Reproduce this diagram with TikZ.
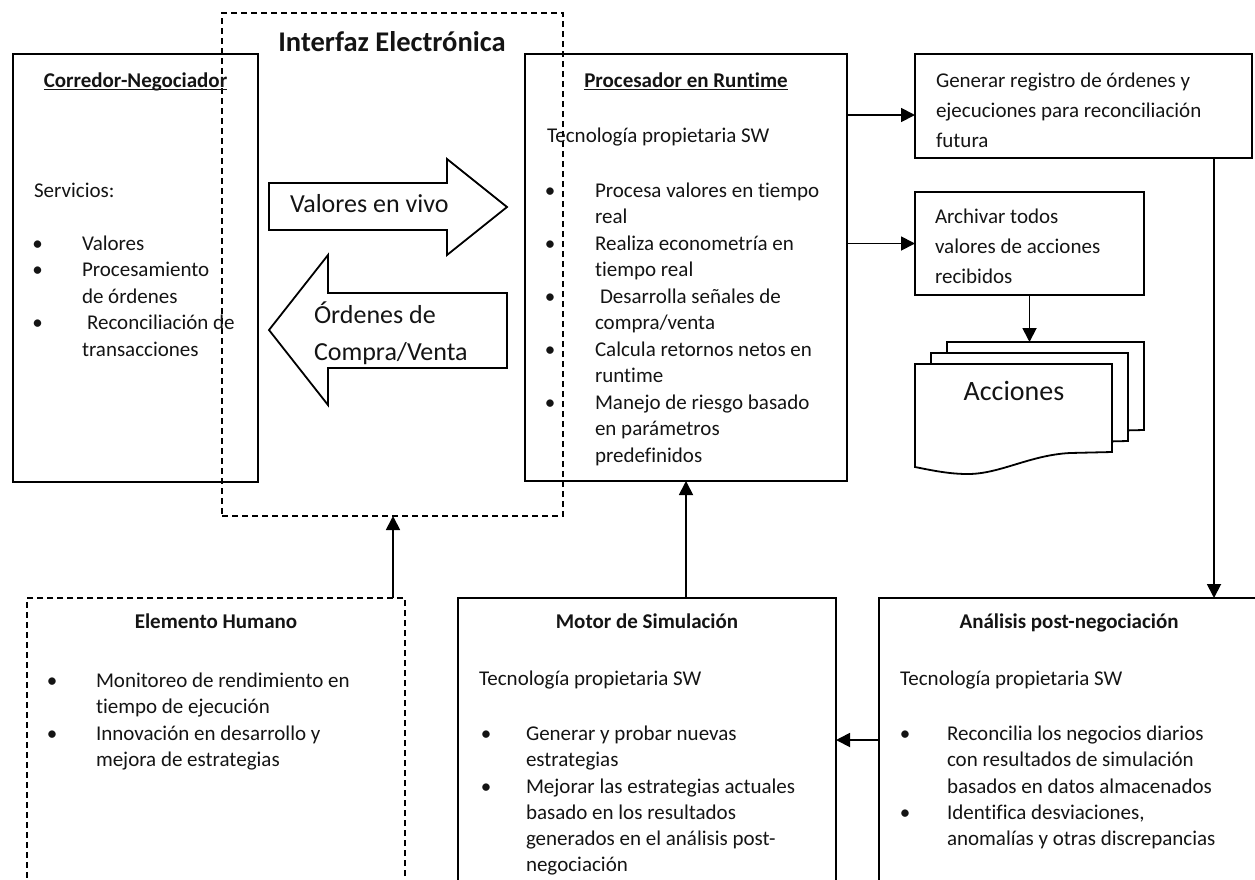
\documentclass[tikz,border=0pt]{standalone}
\usepackage{fontspec}
\setmainfont{Carlito}[Ligatures=NoCommon]
\usetikzlibrary{arrows.meta}
\definecolor{ink}{HTML}{141414}
% underline drawn through the descenders, as a word processor does
\newcommand\titlerule[1]{\setbox0\hbox{#1}\rlap{\rule[-3pt]{\wd0}{1.4pt}}\box0}
\begin{document}
\begin{tikzpicture}[x=1pt,y=-1pt,
  box/.style={draw=black, line width=1.8pt, inner sep=0pt, outer sep=0pt, anchor=north west},
  dbox/.style={box, dash pattern=on 6pt off 4pt},
  link/.style={draw=black, line width=1.8pt, -{Triangle[length=14pt,width=14pt]}},
  body/.style={inner sep=0pt, outer sep=0pt, anchor=base west, text=ink, font=\fontsize{21}{26}\selectfont},
  head/.style={body, anchor=base, font=\fontsize{21}{26}\selectfont\bfseries},
  dot/.style={body, anchor=base},
  big/.style={body, font=\fontsize{26}{30}\selectfont},
  blockarrow/.style={draw=black, line width=1.8pt, fill=white, line join=miter},
  doc/.style={draw=black, line width=1.8pt, fill=white},
]
\clip (0,0) rectangle (1255,879);

% ---------- frames ----------
\node[box, minimum width=245pt, minimum height=428pt] (corr) at (13,54) {};
\node[box, minimum width=322pt, minimum height=427pt] (proc) at (525,54) {};
\node[box, minimum width=337pt, minimum height=104pt] (gen) at (915,54) {};
\node[box, minimum width=229pt, minimum height=103pt] (arch) at (915,192) {};
\node[dbox, minimum width=341pt, minimum height=503pt] (iface) at (222,13) {};
\node[dbox, minimum width=378pt, minimum height=320pt] (hum) at (27,598) {};
\node[box, minimum width=378pt, minimum height=320pt] (motor) at (458,598) {};
\node[box, minimum width=390pt, minimum height=320pt] (ana) at (879,598) {};

% ---------- electronic interface ----------
\node[body, anchor=base, font=\fontsize{28.5}{32}\selectfont\bfseries] (ifaceT) at (392,51) {Interfaz Electrónica};
\draw[blockarrow] (269,183) -- (447,183) -- (447,159) -- (507,207) -- (447,255) -- (447,230) -- (269,230) -- cycle;
\node[big] (live) at (290,212) {Valores en vivo};
\draw[blockarrow] (507,293) -- (328,293) -- (328,255) -- (269,330) -- (328,405) -- (328,368) -- (507,368) -- cycle;
\node[big] (ord1) at (314,323) {Órdenes de};
\node[big] (ord2) at (314,360) {Compra/Venta};

% ---------- broker ----------
\node[head] (corrT) at (135.5,87) {\titlerule{Corredor-Negociador}};
\node[body] (corrS) at (34,197) {Servicios:};
\foreach \x/\y/\t [count=\i] in {82/250/Valores, 82/276.5/Procesamiento, 82/303/de órdenes,
    87/329.5/Reconciliación de, 82/356/transacciones}
  \node[body] (c\i) at (\x,\y) {\t};
\foreach \y [count=\i] in {250,276.5,329.5}
  \node[dot] (cb\i) at (37.5,\y) {\textbullet};

% ---------- runtime processor ----------
\node[head] (procT) at (686,87) {\titlerule{Procesador en Runtime}};
\node[body] (procS) at (547,142) {Tecnología propietaria SW};
\foreach \x/\y/\t [count=\i] in {595/197/Procesa valores en tiempo, 595/223.5/real,
    595/250/Realiza econometría en, 595/276.5/tiempo real,
    600/303/Desarrolla señales de, 595/329.5/compra\slash venta,
    595/356/Calcula retornos netos en, 595/382.5/runtime,
    595/409/Manejo de riesgo basado, 595/435.5/en parámetros, 595/462/predefinidos}
  \node[body] (p\i) at (\x,\y) {\t};
\foreach \y [count=\i] in {197,250,303,356,409}
  \node[dot] (pb\i) at (550,\y) {\textbullet};

% ---------- log and archive ----------
\foreach \y/\t [count=\i] in {87/Generar registro de órdenes y, 117/ejecuciones para reconciliación, 147/futura}
  \node[body] (g\i) at (936,\y) {\t};
\foreach \y/\t [count=\i] in {223/Archivar todos, 253/valores de acciones, 283/recibidos}
  \node[body] (a\i) at (935,\y) {\t};

% stacked documents
\foreach \dx/\dy in {32/-22, 16/-11, 0/0}{
  \begin{scope}[shift={(\dx,\dy)}]
    \draw[doc] (915,364) -- (1112,364) -- (1112,452) -- (1070,453)
      .. controls (1030,455) and (1000,474) .. (968,474)
      .. controls (950,474) and (935,471) .. (915,467) -- cycle;
  \end{scope}
}
\coordinate (docTop) at (1030,342);
\node[body, anchor=base, font=\fontsize{28}{32}\selectfont] (acc) at (1014,400) {Acciones};

% ---------- human element ----------
\node[head] (humT) at (216,628) {Elemento Humano};
\foreach \y/\t [count=\i] in {687/Monitoreo de rendimiento en, 713/tiempo de ejecución,
    740/Innovación en desarrollo y, 766/mejora de estrategias}
  \node[body] (h\i) at (96,\y) {\t};
\foreach \y [count=\i] in {687,740}
  \node[dot] (hb\i) at (52,\y) {\textbullet};

% ---------- simulation engine ----------
\node[head] (motorT) at (647,628) {Motor de Simulación};
\node[body] (motorS) at (479,685) {Tecnología propietaria SW};
\foreach \y/\t [count=\i] in {740/Generar y probar nuevas, 766/estrategias,
    793/Mejorar las estrategias actuales, 819/basado en los resultados,
    845/generados en el análisis post-, 871/negociación}
  \node[body] (m\i) at (526,\y) {\t};
\foreach \y [count=\i] in {740,793}
  \node[dot] (mb\i) at (486,\y) {\textbullet};

% ---------- post-trade analysis ----------
\node[head] (anaT) at (1069,628) {Análisis post-negociación};
\node[body] (anaS) at (900,685) {Tecnología propietaria SW};
\foreach \y/\t [count=\i] in {740/Reconcilia los negocios diarios, 766/con resultados de simulación,
    793/basados en datos almacenados, 819/{Identifica desviaciones,},
    845/anomalías y otras discrepancias}
  \node[body] (n\i) at (947,\y) {\t};
\foreach \y [count=\i] in {740,819}
  \node[dot] (nb\i) at (905,\y) {\textbullet};

% ---------- connectors ----------
\coordinate (rail) at (1214,0);
\coordinate (humx) at (393,0);
\draw[link] (proc.east |- 0,115) -- (gen.west |- 0,115);
\draw[link] (proc.east |- arch.west) -- (arch.west);
\draw[link] (arch.south) -- (arch.south |- docTop);
\draw[link] (gen.south -| rail) -- (ana.north -| rail);
\draw[link] (ana.west |- 0,740) -- (motor.east |- 0,740);
\draw[link] (motor.north -| proc.south) -- (proc.south);
\draw[link] (hum.north -| humx) -- (iface.south -| humx);
\end{tikzpicture}
\end{document}
